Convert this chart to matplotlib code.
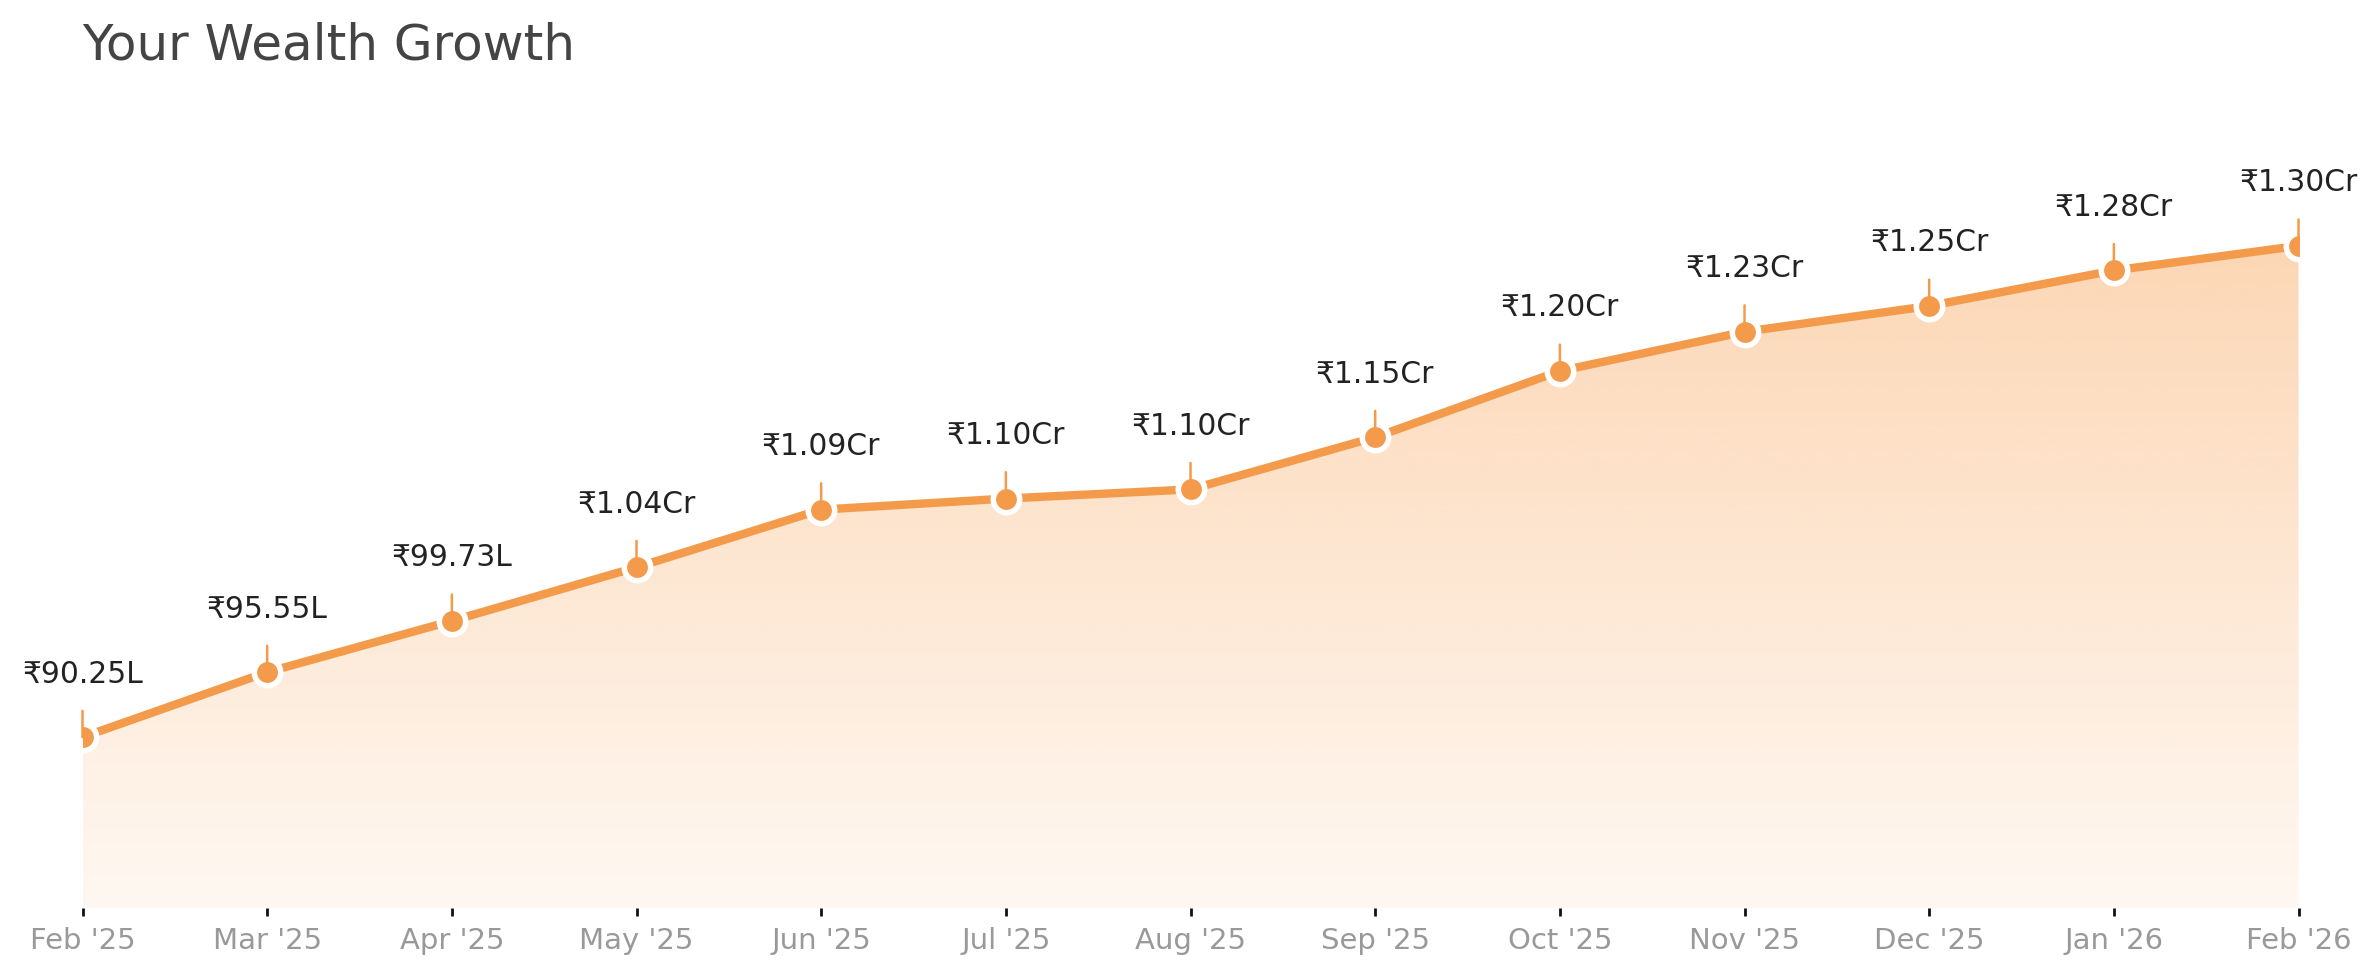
import matplotlib.pyplot as plt
import numpy as np

ORANGE = '#F39A4B'
TEXT_DARK = '#222222'
TITLE_GRAY = '#444444'
TICK_GRAY = '#999999'

months = ["Feb '25", "Mar '25", "Apr '25", "May '25", "Jun '25", "Jul '25", "Aug '25",
          "Sep '25", "Oct '25", "Nov '25", "Dec '25", "Jan '26", "Feb '26"]
# portfolio value in lakh rupees
wealth_lakh = [90.25, 95.55, 99.73, 104.1, 108.8, 109.7, 110.45,
               114.7, 120.1, 123.3, 125.4, 128.3, 130.3]


def fmt_inr(v):
    if v >= 100:
        return f'\u20b9{v / 100:.2f}Cr'
    return f'\u20b9{v:.2f}L'


x = np.arange(len(months))
y = np.array(wealth_lakh)

fig = plt.figure(figsize=(2379 / 200, 979 / 200), dpi=200)
ax = fig.add_axes([0.03468, 0.0712, 0.9315, 0.7756])
ax.set_xlim(x[0], x[-1])
ax.set_ylim(76.3, 138.2)

# gradient fill under the line, clipped to the area polygon
y0 = ax.get_ylim()[0]
area = ax.fill_between(x, y, y0, facecolor='none', edgecolor='none')
grad = np.zeros((256, 1, 4))
grad[:, 0, :3] = np.array([0xF9, 0x9A, 0x45]) / 255
grad[:, 0, 3] = np.linspace(0.40, 0.07, 256)
img = ax.imshow(grad, extent=(x[0], x[-1], y0, y.max()), aspect='auto',
                origin='upper', zorder=1, interpolation='bilinear')
img.set_clip_path(area.get_paths()[0], transform=ax.transData)
ax.set_ylim(76.3, 138.2)

ax.plot(x, y, color=ORANGE, lw=3, zorder=3, solid_capstyle='round')
ax.plot(x, y, 'o', color=ORANGE, ms=9.5, mec='white', mew=2, zorder=4)

for xi, yi in zip(x, y):
    ax.annotate('', xy=(xi, yi), xytext=(0, 9.5), textcoords='offset points',
                arrowprops=dict(arrowstyle='-', color=ORANGE, lw=0.9,
                                shrinkA=0, shrinkB=0), zorder=5)
    ax.annotate(fmt_inr(yi), xy=(xi, yi), xytext=(0, 20), textcoords='offset points',
                ha='center', va='baseline', fontsize=10.7, color=TEXT_DARK,
                annotation_clip=False)

ax.set_xticks(x)
ax.set_xticklabels(months)
ax.tick_params(axis='x', colors='#111111', labelcolor=TICK_GRAY, labelsize=10.5,
               length=3, width=1, pad=3.5)
ax.set_yticks([])
for s in ax.spines.values():
    s.set_visible(False)

fig.text(82.5 / 2379, 1 - 60 / 979, 'Your Wealth Growth', fontsize=18,
         color=TITLE_GRAY, ha='left', va='baseline')

fig.savefig('out.png', dpi=200, facecolor='white')
